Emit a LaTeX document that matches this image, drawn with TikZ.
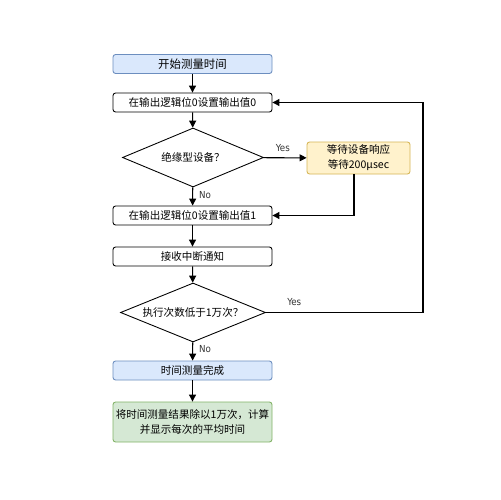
\documentclass[tikz,border=0pt]{standalone}
\usepackage{fontspec}
\setmainfont{Noto Sans CJK SC}
\newfontfamily\latinf{DejaVu Sans Condensed}
\usetikzlibrary{shapes.geometric,arrows.meta}
\definecolor{blueF}{HTML}{DAE8FC}
\definecolor{blueD}{HTML}{6C8EBF}
\definecolor{yelF}{HTML}{FFF2CC}
\definecolor{yelD}{HTML}{D6B656}
\definecolor{grnF}{HTML}{D5E8D4}
\definecolor{grnD}{HTML}{82B366}
\begin{document}
\begin{tikzpicture}[x=0.02cm,y=-0.02cm,
  box/.style={draw=black,rounded corners=1.5pt,fill=white,minimum width=159*0.02cm,minimum height=19*0.02cm,inner sep=0pt,font=\fontsize{6}{7}\selectfont,line width=0.5pt},
  bluebox/.style={box,fill=blueF,draw=blueD},
  grnbox/.style={box,fill=grnF,draw=grnD,minimum height=40*0.02cm,align=center,font=\fontsize{6}{8.5}\selectfont},
  yelbox/.style={box,fill=yelF,draw=yelD,minimum width=103*0.02cm,minimum height=32*0.02cm,align=center,font=\fontsize{6}{8.5}\selectfont},
  dia/.style={draw=black,diamond,aspect=2.4,inner sep=0pt,fill=white,line width=0.5pt,font=\fontsize{6}{7}\selectfont},
  conn/.style={draw=black,line width=0.6pt,-{Triangle[length=4pt,width=4pt]}},
  lab/.style={font=\latinf\fontsize{5.5}{6}\selectfont,text=black!80}]
\useasboundingbox (0,0) rectangle (500,500);
\fill[white] (0,0) rectangle (500,500);
\node[bluebox,font=\fontsize{6.5}{7}\selectfont] (start) at (192.5,64) {开始测量时间};
\node[box] (b1) at (192.5,102.5) {在输出逻辑位0设置输出值0};
\node[dia,minimum width=141*0.02cm,minimum height=59*0.02cm] (d1) at (193,157.5) {绝缘型设备？};
\node[yelbox] (wait) at (358.5,158) {等待设备响应\\等待200μsec};
\node[box] (b2) at (192.5,215.5) {在输出逻辑位0设置输出值1};
\node[box] (b3) at (192.5,256.5) {接收中断通知};
\node[dia,minimum width=145*0.02cm,minimum height=59*0.02cm] (d2) at (193,312.5) {执行次数低于1万次？};
\node[bluebox] (done) at (192.5,370.5) {时间测量完成};
\node[grnbox] (res) at (192.5,422) {将时间测量结果除以1万次，计算\\并显示每次的平均时间};
\coordinate (c1) at (354,215.5);
\coordinate (c2) at (423,312.5);
\coordinate (c3) at (423,102.5);
\draw[conn] (start) -- (b1);
\draw[conn] (b1) -- (d1);
\draw[conn] (d1) -- node[lab,above,pos=0.45] {Yes} (wait);
\draw[conn] (d1) -- node[lab,right,pos=0.45] {No} (b2);
\draw[conn] (wait.south -| c1) -- (c1) -- (b2);
\draw[conn] (b2) -- (b3);
\draw[conn] (b3) -- (d2);
\draw[conn] (d2.east) -- node[lab,above,pos=0.18] {Yes} (c2) -- (c3) -- (b1);
\draw[conn] (d2) -- node[lab,right,pos=0.35] {No} (done);
\draw[conn] (done) -- (res);
\end{tikzpicture}
\end{document}
